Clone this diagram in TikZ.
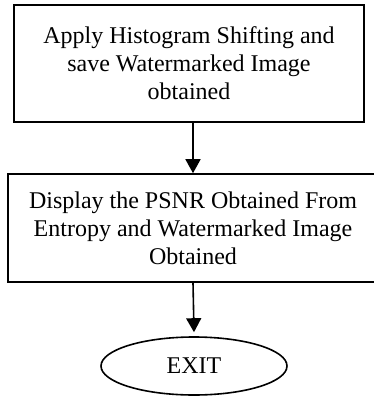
\documentclass[tikz,border=0pt]{standalone}
\usepackage{fontspec}
\setmainfont{Liberation Serif}
\usetikzlibrary{arrows.meta,shapes.geometric}

\begin{document}
\begin{tikzpicture}[x=1pt,y=-1pt,line width=1.6pt,
  procbox/.style={draw,rectangle,align=center,inner sep=0pt,font=\fontsize{24}{28}\selectfont},
  exitnode/.style={draw,ellipse,inner sep=0pt,font=\fontsize{24}{28}\selectfont},
  flowarrow/.style={-{Triangle[width=15pt,length=14pt]},line width=1.6pt}]
\path[use as bounding box] (0,0) rectangle (373,396);
\node[procbox,minimum width=350pt,minimum height=117pt] (shift) at (189,63.5) {Apply Histogram Shifting and\\save Watermarked Image\\obtained};
\node[procbox,minimum width=370pt,minimum height=108pt] (psnr) at (193,228) {Display the PSNR Obtained From\\Entropy and Watermarked Image\\Obtained};
\node[exitnode,minimum width=186pt,minimum height=58pt] (exit) at (194,366) {EXIT};
\draw[flowarrow] (shift.south -| psnr.north) -- (psnr.north);
\draw[flowarrow] (psnr.south) -- ([yshift=4pt]exit.north);
\end{tikzpicture}
\end{document}
